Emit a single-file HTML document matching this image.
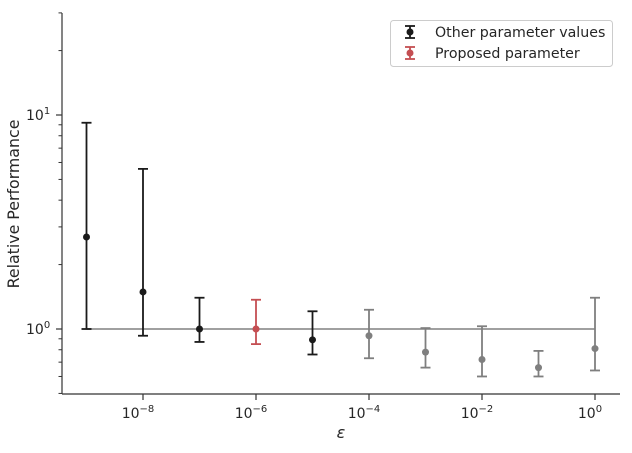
<!DOCTYPE html>
<html><head><meta charset="utf-8"><style>
body{margin:0;background:#fff;}
text{font-family:"DejaVu Sans","Liberation Sans",sans-serif;fill:#262626;}
</style></head><body>
<svg id="chart" width="632" height="448" viewBox="0 0 632 448" xmlns="http://www.w3.org/2000/svg">
<g id="axes"></g>
<g id="marks"></g>
<g>
<rect x="390.5" y="20.5" width="222" height="46" rx="3" fill="#fff" stroke="#ccc"/>
<g>
<line x1="410" y1="26" x2="410" y2="38" stroke="#1a1a1a" stroke-width="1.8"/>
<line x1="405" y1="26" x2="415" y2="26" stroke="#1a1a1a" stroke-width="1.8"/>
<line x1="405" y1="38" x2="415" y2="38" stroke="#1a1a1a" stroke-width="1.8"/>
<circle cx="410" cy="32" r="3.5" fill="#1a1a1a"/>
<text x="435" y="37" font-size="14.2">Other parameter values</text></g>
<g>
<line x1="410" y1="47" x2="410" y2="59" stroke="#c44e52" stroke-width="1.8"/>
<line x1="405" y1="47" x2="415" y2="47" stroke="#c44e52" stroke-width="1.8"/>
<line x1="405" y1="59" x2="415" y2="59" stroke="#c44e52" stroke-width="1.8"/>
<circle cx="410" cy="53" r="3.5" fill="#c44e52"/>
<text x="435" y="58" font-size="14.2">Proposed parameter</text></g>
</g>
</svg>
<script>
const epsExp=[-9,-8,-7,-6,-5,-4,-3,-2,-1,0];
const perf=[2.69,1.49,1.0,1.0,0.89,0.93,0.78,0.72,0.66,0.81];
const upper=[9.2,5.6,1.40,1.37,1.21,1.23,1.01,1.03,0.79,1.40];
const lower=[1.0,0.93,0.87,0.85,0.76,0.73,0.66,0.60,0.60,0.64];
const group=["other","other","other","proposed","other","faded","faded","faded","faded","faded"];
const xTickExp=[-8,-6,-4,-2,0];
const yTickExp=[0,1];
const colors={other:"#1a1a1a",proposed:"#c44e52",faded:"#7f7f7f"};
const NS="http://www.w3.org/2000/svg";
const L=62,R=620,T=13,B=394;
function xs(e){return 143+(e+8)*56.5;}
function ys(v){return 329-Math.log10(v)*214;}
function mk(tag,attrs,parent){const el=document.createElementNS(NS,tag);for(const k in attrs)el.setAttribute(k,attrs[k]);parent.appendChild(el);return el;}
const ax=document.getElementById('axes'),mg=document.getElementById('marks');
let e;
e=mk('line',{x1:L,y1:T,x2:L,y2:B,stroke:'#333','stroke-width':1.2},ax);


e=mk('line',{x1:L,y1:B,x2:R,y2:B,stroke:'#333','stroke-width':1.2},ax);


xTickExp.forEach(k=>{const x=xs(k);
e=mk('line',{x1:x,y1:B,x2:x,y2:B+6,stroke:'#333','stroke-width':1.2},ax);


const t=mk('text',{x:x-5,y:B+24,'font-size':14,'text-anchor':'middle'},ax);


t.textContent='10';
const s=mk('tspan',{dy:-6,'font-size':10},t);s.textContent=(k<0?'\u2212'+(-k):''+k);});
yTickExp.forEach(k=>{const y=ys(Math.pow(10,k));
e=mk('line',{x1:L-6,y1:y,x2:L,y2:y,stroke:'#333','stroke-width':1.2},ax);


const t=mk('text',{x:L-36,y:y+5,'font-size':14},ax);


t.textContent='10';
const s=mk('tspan',{dy:-6,'font-size':10},t);s.textContent=''+k;});
[0.5,0.6,0.7,0.8,0.9,2,3,4,5,6,7,8,9,20,30].forEach(v=>{const y=ys(v);if(y<T-1)return;
e=mk('line',{x1:L-3.5,y1:y,x2:L,y2:y,stroke:'#333','stroke-width':1},ax);

});
e=mk('text',{x:341,y:438,'font-size':16,'text-anchor':'middle','font-style':'italic'},ax);


e.textContent='ε';
e=mk('text',{x:19,y:204,'font-size':15.8,'text-anchor':'middle',transform:'rotate(-90 19 204)'},ax);


e.textContent='Relative Performance';
e=mk('line',{x1:xs(epsExp[0]),y1:ys(1),x2:xs(epsExp[epsExp.length-1]),y2:ys(1),stroke:'#a0a0a0','stroke-width':2},mg);


epsExp.forEach((k,i)=>{const x=xs(k),c=colors[group[i]];
const g=mk('g',{},mg);


const yt=ys(upper[i]),yb=ys(lower[i]);
mk('line',{x1:x,y1:yt,x2:x,y2:yb,stroke:c,'stroke-width':1.8},g);
mk('line',{x1:x-5,y1:yt,x2:x+5,y2:yt,stroke:c,'stroke-width':1.8},g);
mk('line',{x1:x-5,y1:yb,x2:x+5,y2:yb,stroke:c,'stroke-width':1.8},g);
mk('circle',{cx:x,cy:ys(perf[i]),r:3.5,fill:c},g);});
</script>
</body></html>
